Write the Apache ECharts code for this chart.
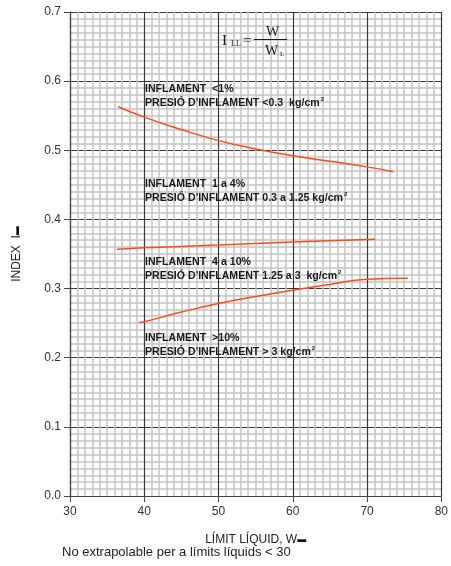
<!DOCTYPE html>
<html>
<head>
<meta charset="utf-8">
<script src="https://cdn.jsdelivr.net/npm/echarts@6/dist/echarts.min.js"></script>
<style>
  html, body { margin: 0; padding: 0; background: #fff; }
  #chart { width: 451px; height: 566px; }
</style>
</head>
<body>
<div id="chart"></div>
<script>
// --- dades llegides del gràfic ---
const xTicks = [30, 40, 50, 60, 70, 80];
const yTicks = [0.0, 0.1, 0.2, 0.3, 0.4, 0.5, 0.6, 0.7];

// corba superior (<1% / 1 a 4%)
const curveTopX = [36.5, 40, 45, 50, 55, 60, 65, 70, 73.5];
const curveTopY = [0.563, 0.548, 0.530, 0.514, 0.502, 0.492, 0.484, 0.476, 0.469];

// corba del mig (1 a 4% / 4 a 10%)
const curveMidX = [36.3, 40, 50, 60, 70, 71.1];
const curveMidY = [0.357, 0.359, 0.363, 0.3675, 0.371, 0.3714];

// corba inferior (4 a 10% / >10%)
const curveLowX = [39.3, 40, 45, 50, 55, 60, 65, 70, 75.5];
const curveLowY = [0.251, 0.252, 0.266, 0.2785, 0.2885, 0.2977, 0.306, 0.3136, 0.315];

const zoneLabels = [
    ['INFLAMENT  <1%', 'PRESIÓ D\'INFLAMENT <0.3  kg/cm{sup|2}'],
    ['INFLAMENT  1 a 4%', 'PRESIÓ D\'INFLAMENT 0.3 a 1.25 kg/cm{sup|2}'],
    ['INFLAMENT  4 a 10%', 'PRESIÓ D\'INFLAMENT 1.25 a 3  kg/cm{sup|2}'],
    ['INFLAMENT  >10%', 'PRESIÓ D\'INFLAMENT > 3 kg/cm{sup|2}']
];
const zoneTops = [82, 177, 255, 331];

const zip = (xs, ys) => xs.map((x, i) => [x, ys[i]]);

const chart = echarts.init(document.getElementById('chart'));

const lineSeries = (data) => ({
    type: 'line',
    smooth: true,
    symbol: 'none',
    data: data,
    lineStyle: { color: '#ff4a14', width: 1.5 },
    z: 5
});

// textos de les zones
const zoneGraphics = zoneLabels.map((lines, i) => ({
    type: 'text',
    left: 145,
    top: zoneTops[i],
    z: 10,
    style: {
        text: lines.join('\n'),
        font: 'bold 10.6px "Liberation Sans", Arial, sans-serif',
        fill: '#1a1a1a',
        lineHeight: 14,
        rich: {
            sup: { fontSize: 6, fontWeight: 'bold', verticalAlign: 'top', padding: [0, 0, 6, 1], fill: '#1a1a1a' }
        }
    }
}));

// fórmula I_LL = W / W_L
const serif = '"Liberation Serif", "DejaVu Serif", serif';
const ftxt = (x, y, text, size) => ({
    type: 'text',
    z: 10,
    style: { x: x, y: y, text: text, font: size + 'px ' + serif, fill: '#1a1a1a', verticalAlign: 'middle' }
});
const formula = [
    ftxt(222, 41, 'I', 15),
    ftxt(231, 43.5, 'LL', 8),
    ftxt(243, 41, '=', 15),
    ftxt(266, 32, 'W', 14),
    { type: 'line', z: 10, shape: { x1: 254, y1: 39.5, x2: 287, y2: 39.5 }, style: { stroke: '#1a1a1a', lineWidth: 1 } },
    ftxt(265, 51, 'W', 14),
    ftxt(280, 54, 'L', 7)
];

const option = {
    backgroundColor: '#fff',
    animation: false,
    grid: { left: 70, right: 9, top: 12, bottom: 70 },
    xAxis: {
        type: 'value',
        min: xTicks[0],
        max: xTicks[xTicks.length - 1],
        interval: 10,
        name: 'LÍMIT LÍQUID, W{b|▬}',
        nameLocation: 'middle',
        nameGap: 38,
        nameTextStyle: {
            fontFamily: '"Liberation Sans", Arial, sans-serif',
            fontSize: 12,
            color: '#222',
            rich: { b: { fontSize: 9, color: '#111' } }
        },
        axisLine: { show: true, lineStyle: { color: '#444', width: 1.2 } },
        axisTick: { show: true, length: 6, lineStyle: { color: '#444' } },
        axisLabel: { color: '#333', fontSize: 12, fontFamily: '"Liberation Sans", Arial, sans-serif', margin: 10 },
        splitLine: { show: true, lineStyle: { color: '#3a3a3a', width: 1.2 } },
        minorTick: { show: false, splitNumber: 10 },
        minorSplitLine: { show: true, lineStyle: { color: '#c4c4c4', width: 1.5 } }
    },
    yAxis: {
        type: 'value',
        min: yTicks[0],
        max: yTicks[yTicks.length - 1],
        interval: 0.1,
        name: 'INDEX  I{b|▬}',
        nameLocation: 'middle',
        nameGap: 47,
        nameRotate: 90,
        nameTextStyle: {
            fontFamily: '"Liberation Sans", Arial, sans-serif',
            fontSize: 12,
            color: '#222',
            rich: { b: { fontSize: 9, color: '#111' } }
        },
        axisLine: { show: true, lineStyle: { color: '#444', width: 1.2 } },
        axisTick: { show: true, length: 6, lineStyle: { color: '#444' } },
        axisLabel: {
            color: '#333',
            fontSize: 12,
            fontFamily: '"Liberation Sans", Arial, sans-serif',
            margin: 9,
            formatter: (v) => v.toFixed(1)
        },
        splitLine: { show: true, lineStyle: { color: '#3a3a3a', width: 1.2 } },
        minorTick: { show: false, splitNumber: 10 },
        minorSplitLine: { show: true, lineStyle: { color: '#c4c4c4', width: 1.5 } }
    },
    series: [
        lineSeries(zip(curveTopX, curveTopY)),
        lineSeries(zip(curveMidX, curveMidY)),
        lineSeries(zip(curveLowX, curveLowY))
    ],
    graphic: [
        ...zoneGraphics,
        ...formula,
        {
            type: 'text',
            left: 62,
            top: 546,
            style: {
                text: 'No extrapolable per a límits líquids < 30',
                font: '13px "Liberation Sans", Arial, sans-serif',
                fill: '#222'
            }
        }
    ]
};

chart.setOption(option);
</script>
</body>
</html>
